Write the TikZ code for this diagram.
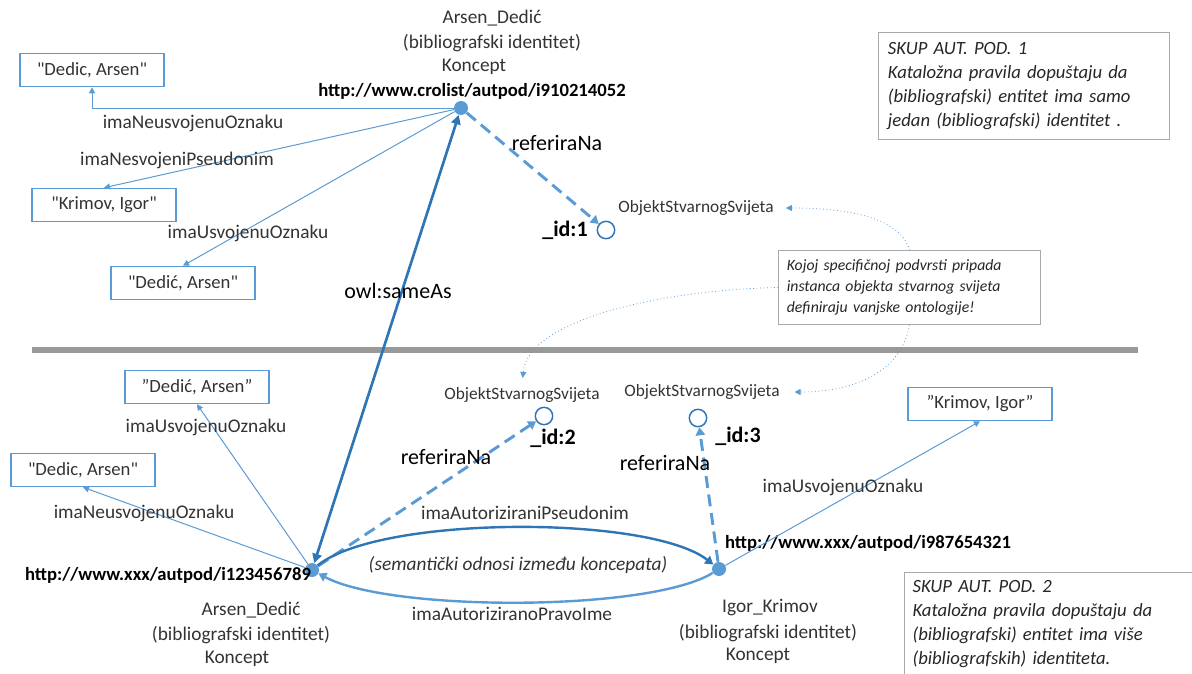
\documentclass[tikz,border=0pt]{standalone}
\usepackage{fontspec}
\setmainfont{Carlito}[Ligatures=TeXOff]
\usepackage{xcolor}
\usetikzlibrary{
    arrows.meta,
    calc,
    positioning
}
\definecolor{lblue}{RGB}{91,155,213}
\definecolor{dblue}{RGB}{46,117,182}
\definecolor{boxgray}{RGB}{170,170,170}

\begin{document}
\begin{tikzpicture}[x=0.75pt,y=-0.75pt,
    lit/.style={draw=lblue, line width=0.9pt, minimum width=108pt, minimum height=25pt, inner sep=2pt, font=\fontsize{14}{16}\selectfont, text=black!80},
    res/.style={circle, fill=lblue, minimum size=10.5pt, inner sep=0pt},
    blank/.style={circle, draw=dblue, line width=1.1pt, fill=white, minimum size=13pt, inner sep=0pt},
    lbl/.style={font=\fontsize{14.5}{16}\selectfont, text=black!80, inner sep=1pt},
    url/.style={font=\fontsize{14}{16}\selectfont\bfseries, inner sep=1pt},
    big/.style={font=\fontsize{16.5}{18}\selectfont, inner sep=1pt},
    cls/.style={font=\fontsize{13}{15}\selectfont, text=black!80, inner sep=1pt},
    note/.style={draw=boxgray, line width=0.9pt, align=left, font=\fontsize{14}{18}\selectfont\itshape, text=black!85, inner sep=6pt},
    prop/.style={lblue, line width=0.75pt, -{Triangle[width=4.5pt,length=4.5pt]}},
    refers/.style={lblue, line width=2.2pt, dash pattern=on 9pt off 5pt, -{Triangle[width=7pt,length=6pt]}},
    same/.style={dblue, line width=2pt, {Triangle[width=7pt,length=7pt]}-{Triangle[width=7pt,length=7pt]}},
    auth/.style={line width=1.8pt, -{Triangle[width=7pt,length=6pt]}},
    hint/.style={lblue, line width=0.6pt, dotted, -{Triangle[width=4.5pt,length=4.5pt]}}
]
\path[use as bounding box, clip] (0,0) rectangle (1192,674);

% upper set
\node[res] (T) at (461,108) {};
\node[lbl] (tname) at (492,18) {Arsen\_Dedić};
\node[lbl] (tid) at (492,43) {(bibliografski identitet)};
\node[lbl] (tcls) at (474,67) {Koncept};
\node[url] (turl) at (472,91) {http://www.crolist/autpod/i910214052};

\node[lit] (b1) at (92,70) {"Dedic, Arsen"};
\node[lit] (b2) at (104,205) {"Krimov, Igor"};
\node[lit] (b3) at (183,283) {"Dedić, Arsen"};

\node[blank] (id1) at (606,230) {};
\node[big, font=\fontsize{16.5}{18}\selectfont\bfseries] (id1l) at (565,230) {\_id:1};
\node[cls] (ob1) at (696,208) {ObjektStvarnogSvijeta};

\draw[prop] (T) -| (b1.south);
\draw[prop] (T) -- (b2.north);
\draw[prop] (T) -- (b3.north);
\draw[refers] (T) -- (id1);

\node[lbl] (p1) at (193,123) {imaNeusvojenuOznaku};
\node[lbl] (p2) at (177,160) {imaNesvojeniPseudonim};
\node[lbl] (p3) at (248,233) {imaUsvojenuOznaku};
\node[big] (r1) at (557,143) {referiraNa};

\node[note, anchor=north west, minimum width=218pt, minimum height=80pt, text width=204pt] (set1) at (878,32)
    {SKUP AUT. POD. 1\\Katalo\v{z}na pravila dopuštaju da\\(bibliografski) entitet ima samo\\jedan (bibliografski) identitet .};
\node[note, font=\fontsize{11.8}{15.75}\selectfont\itshape, minimum width=196pt, minimum height=55pt, text width=184pt] (hint) at (909.5,287.5)
    {Kojoj specifičnoj podvrsti pripada\\instanca objekta stvarnog svijeta\\definiraju vanjske ontologije!};

% divider
\draw[line width=4.5pt, black!40] (32,350) -- (1138,350);

% lower set
\node[res] (L) at (312,570) {};
\node[url] (lurl) at (168,575) {http://www.xxx/autpod/i123456789};
\node[lbl] (lname) at (251,610) {Arsen\_Dedić};
\node[lbl] (lid) at (241,635) {(bibliografski identitet)};
\node[lbl] (lcls) at (237,659) {Koncept};

\node[res] (R) at (719,569) {};
\node[url] (rurl) at (868,543) {http://www.xxx/autpod/i987654321};
\node[lbl] (rname) at (770,608) {Igor\_Krimov};
\node[lbl] (rid) at (768,633) {(bibliografski identitet)};
\node[lbl] (rcls) at (758,656) {Koncept};

\node[lit] (bl1) at (197,387) {”Dedić, Arsen”};
\node[lit] (bl2) at (83,470) {"Dedic, Arsen"};
\node[lit] (br) at (980,404) {”Krimov, Igor”};

\node[blank] (id2) at (544,416) {};
\node[big, font=\fontsize{16.5}{18}\selectfont\bfseries] (id2l) at (553,438) {\_id:2};
\node[cls] (ob2) at (522,395) {ObjektStvarnogSvijeta};
\node[blank] (id3) at (698,418) {};
\node[big, font=\fontsize{16.5}{18}\selectfont\bfseries] (id3l) at (738,436) {\_id:3};
\node[cls] (ob3) at (702,392) {ObjektStvarnogSvijeta};

\draw[prop] (L) -- (bl1.south);
\draw[prop] (L) -- (bl2.south);
\draw[prop] (R) -- (br.south);
\draw[refers] (L) -- (id2);
\draw[refers] (R) -- (id3);
\draw[same] (L) -- (T);
\draw[auth, dblue] (L) .. controls (380,515) and (650,515) .. (R);
\draw[auth, lblue] (R) .. controls (650,612) and (390,612) .. (L);

\node[lbl] (p4) at (206,427) {imaUsvojenuOznaku};
\node[lbl] (p5) at (144,513) {imaNeusvojenuOznaku};
\node[lbl] (p6) at (843,487) {imaUsvojenuOznaku};
\node[lbl] (p7) at (525,513) {imaAutoriziraniPseudonim};
\node[lbl] (p8) at (512,614) {imaAutoriziranoPravoIme};
\node[lbl, font=\fontsize{14.5}{16}\selectfont\itshape] (sem) at (518,565) {(semantički odnosi između koncepata)};
\node[big] (r2) at (446,457) {referiraNa};
\node[big] (r3) at (665,463) {referiraNa};
\node[big] (sa) at (398,291) {owl:sameAs};

\draw[hint, shorten >=8pt] (hint.north) .. controls (900,215) and (840,208) .. (ob1.east);
\draw[hint, shorten >=6pt] (hint.west) .. controls (660,290) and (528,320) .. (ob2.north);
\draw[hint, shorten >=10pt] (hint.south) .. controls (900,380) and (840,392) .. (ob3.east);

\node[note, anchor=north west, text width=280pt] (set2) at (904,572)
    {SKUP AUT. POD. 2\\Katalo\v{z}na pravila dopuštaju da\\(bibliografski) entitet ima više\\(bibliografskih) identiteta.};
\end{tikzpicture}
\end{document}
